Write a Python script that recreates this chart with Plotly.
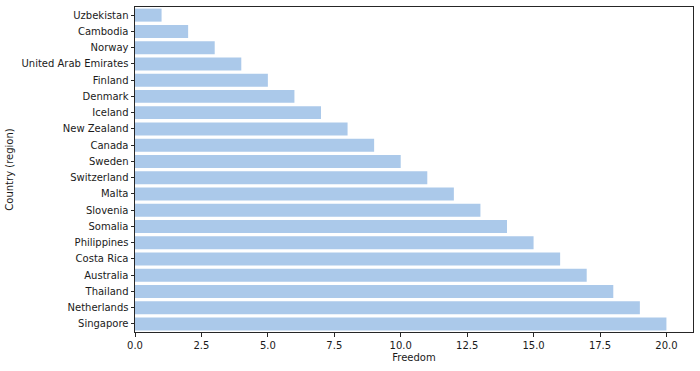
import plotly.graph_objects as go

countries = ["Uzbekistan", "Cambodia", "Norway", "United Arab Emirates", "Finland",
             "Denmark", "Iceland", "New Zealand", "Canada", "Sweden", "Switzerland",
             "Malta", "Slovenia", "Somalia", "Philippines", "Costa Rica", "Australia",
             "Thailand", "Netherlands", "Singapore"]
freedom = [1, 2, 3, 4, 5, 6, 7, 8, 9, 10, 11, 12, 13, 14, 15, 16, 17, 18, 19, 20]
x_ticks = [0, 2.5, 5, 7.5, 10, 12.5, 15, 17.5, 20]
x_tick_text = ["0.0", "2.5", "5.0", "7.5", "10.0", "12.5", "15.0", "17.5", "20.0"]

fig = go.Figure(go.Bar(
    x=freedom, y=countries, orientation="h",
    marker=dict(color="#abc9ea", line=dict(width=0)),
    width=0.8,
))

fig.update_layout(
    width=700, height=371,
    margin=dict(l=135, r=7, t=7, b=39),
    plot_bgcolor="white", paper_bgcolor="white",
    font=dict(family="DejaVu Sans", size=10, color="#1a1a1a"),
    showlegend=False,
)
fig.update_xaxes(
    range=[0, 21], tickvals=x_ticks, ticktext=x_tick_text,
    ticks="outside", ticklen=3.5, tickcolor="#262626",
    showline=True, linecolor="#262626", linewidth=1, mirror=True,
    showgrid=False, zeroline=False,
    title=dict(text="Freedom", standoff=4, font=dict(size=10)),
)
fig.update_yaxes(
    categoryorder="array", categoryarray=countries, autorange="reversed",
    range=[19.5, -0.5],
    ticks="outside", ticklen=3.5, tickcolor="#262626",
    showline=True, linecolor="#262626", linewidth=1, mirror=True,
    showgrid=False, zeroline=False,
    title=dict(text="Country (region)", standoff=5, font=dict(size=10)),
)
fig.write_html("out.html")
